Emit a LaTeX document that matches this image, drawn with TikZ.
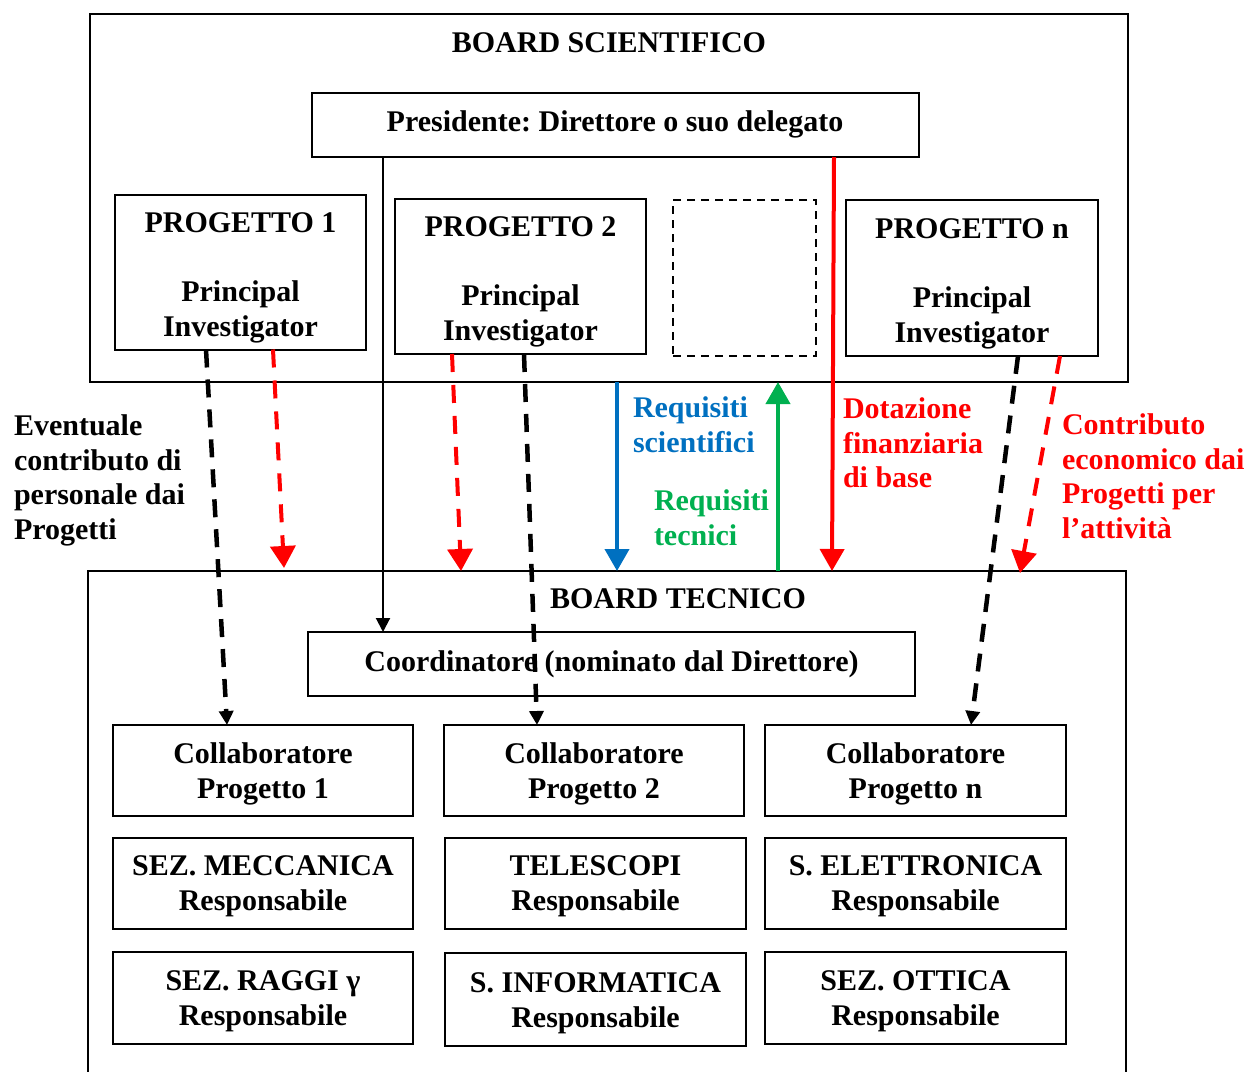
\documentclass[tikz,border=0pt]{standalone}
\usepackage{fontspec}
\setmainfont{Liberation Serif}
\usetikzlibrary{arrows.meta}
\definecolor{wblue}{RGB}{0,112,192}
\definecolor{wgreen}{RGB}{0,176,80}
\definecolor{wred}{RGB}{255,0,0}
\frenchspacing
\begin{document}
\begin{tikzpicture}[x=1pt,y=-1pt,
  every node/.style={inner sep=0pt, outer sep=0pt},
  tx/.style={font=\frenchspacing\fontsize{30}{34.5}\selectfont\bfseries, align=center, anchor=north},
  lt/.style={font=\frenchspacing\fontsize{30}{34.5}\selectfont\bfseries, align=left, anchor=north west},
  box/.style={draw, line width=2pt},
  dbox/.style={draw, line width=2pt, dash pattern=on 8pt off 6pt},
  blackdash/.style={line width=4.5pt, dash pattern=on 18pt off 12pt, -{Triangle[length=14pt,width=14pt]}},
  reddash/.style={wred, line width=4pt, dash pattern=on 18pt off 13pt, -{Triangle[length=22pt,width=25pt]}},
  solidarr/.style={line width=4pt, -{Triangle[length=22pt,width=24pt]}},
  thinarr/.style={line width=2pt, -{Triangle[length=14pt,width=14pt]}}]
\useasboundingbox (0,0) rectangle (1247,1071);
\clip (0,0) rectangle (1247,1071);
\fill[white] (0,0) rectangle (1247,1071);

% boards
\node[box, minimum width=1038pt, minimum height=368pt] (bs) at (609,198) {};
\node[box, minimum width=1038pt, minimum height=540pt] (bt) at (607,841) {};

% top boxes
\node[box, minimum width=607pt, minimum height=64pt] (pres) at (615.5,125) {};
\node[box, minimum width=251pt, minimum height=155pt] (p1) at (240.5,272) {};
\node[box, minimum width=251pt, minimum height=155pt] (p2) at (520.5,276.5) {};
\node[dbox, minimum width=143pt, minimum height=156pt] (pd) at (744.5,278) {};
\node[box, minimum width=252pt, minimum height=156pt] (pn) at (972,278) {};

% bottom boxes
\node[box, minimum width=607pt, minimum height=64pt] (coord) at (611.5,664) {};
\node[box, minimum width=300pt, minimum height=91pt] (c1) at (263,770.5) {};
\node[box, minimum width=300pt, minimum height=91pt] (c2) at (594,770.5) {};
\node[box, minimum width=301pt, minimum height=91pt] (c3) at (915.5,770.5) {};
\node[box, minimum width=300pt, minimum height=91pt] (s1) at (263,883.5) {};
\node[box, minimum width=301pt, minimum height=91pt] (s2) at (595.5,883.5) {};
\node[box, minimum width=301pt, minimum height=91pt] (s3) at (915.5,883.5) {};
\node[box, minimum width=300pt, minimum height=92pt] (r1) at (263,998) {};
\node[box, minimum width=301pt, minimum height=93pt] (r2) at (595.5,999.5) {};
\node[box, minimum width=301pt, minimum height=92pt] (r3) at (915.5,998) {};

% texts
\node[tx] (tbs) at (609,33) {BOARD SCIENTIFICO};
\node[tx] (tpres) at (615,111) {Presidente: Direttore o suo delegato};
\node[tx] (tp1) at (240.5,213) {PROGETTO 1\\[34.5pt]Principal\\Investigator};
\node[tx] (tp2) at (520.5,217) {PROGETTO 2\\[34.5pt]Principal\\Investigator};
\node[tx] (tpn) at (972,219) {PROGETTO n\\[34.5pt]Principal\\Investigator};
\node[tx] (tbt) at (678,589) {BOARD TECNICO};
\node[tx] (tco) at (611.5,651) {Coordinatore (nominato dal Direttore)};
\node[tx] (tc1) at (263,743) {Collaboratore\\Progetto 1};
\node[tx] (tc2) at (594,743) {Collaboratore\\Progetto 2};
\node[tx] (tc3) at (915.5,743) {Collaboratore\\Progetto n};
\node[tx] (ts1) at (263,856) {SEZ. MECCANICA\\Responsabile};
\node[tx] (ts2) at (595.5,856) {TELESCOPI\\Responsabile};
\node[tx] (ts3) at (915.5,856) {S. ELETTRONICA\\Responsabile};
\node[tx] (tr1) at (263,971) {SEZ. RAGGI γ\\Responsabile};
\node[tx] (tr2) at (595.5,973) {S. INFORMATICA\\Responsabile};
\node[tx] (tr3) at (915.5,971) {SEZ. OTTICA\\Responsabile};

% side labels
\node[lt] (lev) at (14,415) {Eventuale\\contributo di\\personale dai\\Progetti};
\node[lt, text=wblue] (lrs) at (633,397) {Requisiti\\scientifici};
\node[lt, text=wgreen] (lrt) at (654,490) {Requisiti\\tecnici};
\node[lt, text=wred] (ldot) at (843,398) {Dotazione\\finanziaria\\di base};
\node[lt, text=wred] (lcon) at (1062,414) {Contributo\\economico dai\\Progetti per\\l’attività};

% connectors
\draw[thinarr] ([xshift=-232.5pt]pres.south) -- ([xshift=-228.5pt]coord.north);
\draw[blackdash] ([xshift=-34.5pt]p1.south) -- ([xshift=-36pt]c1.north);
\draw[reddash] ([xshift=32.5pt]p1.south) -- ([xshift=-323pt,yshift=3pt]bt.north);
\draw[reddash] ([xshift=-68.5pt]p2.south) -- ([xshift=-146pt]bt.north);
\draw[blackdash] ([xshift=3.5pt]p2.south) -- ([xshift=-57pt]c2.north);
\draw[solidarr, wblue] ([xshift=8pt]bs.south) -- ([xshift=10pt]bt.north);
\draw[solidarr, wgreen] ([xshift=171pt]bt.north) -- ([xshift=169pt]bs.south);
\draw[solidarr, wred] ([xshift=218.5pt]pres.south) -- ([xshift=225pt]bt.north);
\draw[blackdash] ([xshift=46pt]pn.south) -- ([xshift=55.5pt]c3.north);
\draw[reddash] ([xshift=88pt]pn.south) -- ([xshift=413pt,yshift=-2pt]bt.north);
\end{tikzpicture}
\end{document}
